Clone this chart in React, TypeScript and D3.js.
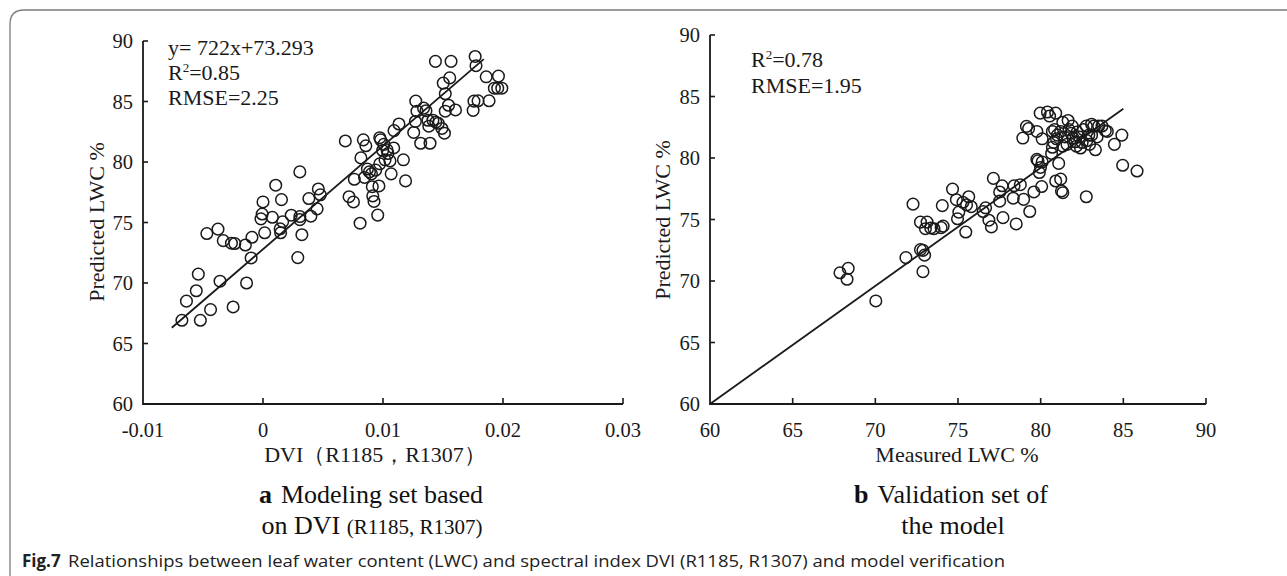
import React from "react";
import * as d3 from "d3";

// panel a: modelling set, DVI (R1185, R1307) vs predicted LWC
const dviValues = [
  -0.00676, -0.00522, -0.00437, -0.00638, -0.00556, -0.00539, -0.00358, -0.00249, -0.00137, -0.00468,
  -0.00375, -0.00331, -0.00263, -0.00235, -0.00147, -0.00092, -0.00099, 0.00014, -0.00007, 0.0,
  -0.00017, 0.00078, 0.00106, 0.00154, 0.00143, 0.00164, 0.00147, 0.00235, 0.00307, 0.00307,
  0.00307, 0.0029, 0.00324, 0.00382, 0.00399, 0.00461, 0.00478, 0.00451, 0.00686, 0.00717,
  0.00754, 0.00761, 0.00809, 0.00816, 0.00836, 0.00857, 0.00846, 0.0087, 0.00887, 0.00911,
  0.00915, 0.00925, 0.00956, 0.00966, 0.00973, 0.0098, 0.00973, 0.00997, 0.01017, 0.01041,
  0.01058, 0.01068, 0.01089, 0.01092, 0.01133, 0.0117, 0.01188, 0.01256, 0.0127, 0.01273,
  0.01283, 0.01314, 0.01338, 0.01358, 0.01375, 0.01382, 0.01392, 0.01416, 0.01437, 0.0144,
  0.01461, 0.01491, 0.01512, 0.01502, 0.01519, 0.01519, 0.01546, 0.01556, 0.01567, 0.01604,
  0.01768, 0.01775, 0.01751, 0.01758, 0.01792, 0.0186, 0.01884, 0.01962, 0.01928, 0.01956,
  0.0199, 0.01007, 0.01034, 0.00939, 0.00904,
];
const predictedA = [
  66.92, 66.92, 67.8, 68.5, 69.36, 70.73, 70.15, 68.02, 70.0, 74.09,
  74.45, 73.5, 73.29, 73.26, 73.14, 73.78, 72.07, 74.15, 75.7, 76.7,
  75.3, 75.43, 78.08, 76.89, 74.48, 75.06, 74.15, 75.6, 79.18, 75.49,
  75.24, 72.1, 73.99, 76.98, 75.52, 77.77, 77.29, 76.13, 81.74, 77.13,
  76.7, 78.57, 74.94, 80.34, 81.83, 81.34, 78.72, 79.42, 79.18, 77.96,
  77.2, 76.74, 75.61, 78.02, 82.01, 81.83, 79.85, 80.95, 80.18, 80.7,
  80.09, 79.02, 81.16, 82.59, 83.14, 80.18, 78.44, 82.44, 83.35, 85.03,
  84.2, 81.55, 84.45, 84.24, 83.45, 82.96, 81.55, 83.45, 88.32, 83.29,
  83.2, 82.77, 82.38, 86.52, 85.64, 84.2, 84.69, 86.95, 88.32, 84.3,
  88.72, 87.96, 84.27, 85.03, 85.06, 87.04, 85.06, 87.1, 86.1, 86.1,
  86.1, 81.46, 81.0, 79.33, 79.02,
];
const fitA_x = [-0.0076, 0.0184];
const fitA_y = [66.3, 88.5];

// panel b: validation set, measured vs predicted LWC
const measuredB = [
  67.86, 68.36, 68.29, 70.03, 71.85, 72.28, 72.73, 72.73, 72.88, 72.98,
  72.88, 73.03, 73.13, 73.35, 73.55, 73.98, 74.1, 74.05, 74.67, 74.9,
  74.97, 75.05, 75.3, 75.52, 75.65, 75.8, 75.47, 76.52, 76.67, 76.87,
  77.02, 77.14, 77.52, 77.52, 77.72, 77.67, 78.34, 78.39, 78.52, 78.77,
  78.92, 78.97, 79.14, 79.27, 79.34, 79.59, 79.77, 79.77, 79.84, 79.92,
  79.99, 80.06, 79.97, 80.09, 80.09, 80.41, 80.54, 80.66, 80.71, 80.79,
  80.84, 80.91, 80.96, 81.09, 80.91, 81.21, 81.26, 81.34, 81.21, 81.34,
  81.46, 81.66, 81.71, 81.84, 81.96, 81.91, 82.09, 82.21, 82.34, 82.51,
  82.59, 82.76, 82.79, 82.91, 82.96, 82.76, 83.08, 83.21, 83.31, 83.41,
  83.51, 83.71, 83.91, 84.03, 84.46, 84.91, 84.96, 85.83, 80.71, 81.01,
  81.59, 82.16, 82.41, 81.34, 83.08,
];
const predictedB = [
  70.67, 71.03, 70.14, 68.38, 71.9, 76.25, 74.79, 72.55, 72.49, 72.1,
  70.76, 74.25, 74.79, 74.31, 74.25, 74.34, 74.46, 76.13, 77.47, 76.61,
  75.06, 75.6, 76.4, 76.19, 76.85, 76.04, 73.98, 75.65, 75.95, 74.94,
  74.4, 78.34, 77.24, 76.49, 75.15, 77.74, 76.73, 77.74, 74.64, 77.83,
  81.62, 76.64, 82.57, 82.39, 75.65, 77.24, 82.16, 79.89, 79.77, 78.82,
  79.23, 77.68, 83.65, 81.56, 79.68, 83.74, 83.41, 80.37, 80.87, 81.26,
  82.31, 83.65, 81.56, 79.56, 78.13, 78.28, 77.32, 77.18, 82.16, 82.9,
  81.71, 83.05, 82.31, 82.01, 81.62, 82.6, 81.32, 82.1, 81.71, 81.26,
  82.31, 82.6, 81.41, 81.86, 81.11, 76.85, 82.75, 82.6, 80.67, 81.71,
  82.6, 82.6, 82.22, 82.16, 81.11, 81.86, 79.41, 78.94, 82.16, 81.86,
  81.11, 80.96, 80.81, 80.96, 81.86,
];
const fitB_x = [60, 85];
const fitB_y = [60, 84];

const ticksA_x = [-0.01, 0, 0.01, 0.02, 0.03];
const ticksA_xLabels = ["-0.01", "0", "0.01", "0.02", "0.03"];
const ticksY = [60, 65, 70, 75, 80, 85, 90];
const ticksB_x = [60, 65, 70, 75, 80, 85, 90];

const SERIF = "'Liberation Serif', 'Times New Roman', serif";
const SANS = "'Open Sans', 'Noto Sans', sans-serif";
const INK = "#1a1a1a";

type Scale = d3.ScaleLinear<number, number>;

function Axes({ x, y, xTicks, xLabels, yTicks }: { x: Scale; y: Scale; xTicks: number[]; xLabels: string[]; yTicks: number[] }) {
  const [x0, x1] = x.range();
  const [y0, y1] = y.range();
  return (
    <g fill={INK} fontFamily={SERIF} fontSize={20.5}>
      <path d={`M${x0},${y1}V${y0}H${x1}`} fill="none" stroke={INK} strokeWidth={1.8} />
      {yTicks.map((t) => (
        <g key={"y" + t}>
          {t !== yTicks[0] && <line x1={x0} x2={x0 + 5} y1={y(t)} y2={y(t)} stroke={INK} strokeWidth={1.6} />}
          <text x={x0 - 10} y={y(t) + 7} textAnchor="end">{t}</text>
        </g>
      ))}
      {xTicks.map((t, i) => (
        <g key={"x" + t}>
          {i > 0 && <line x1={x(t)} x2={x(t)} y1={y0} y2={y0 - 6} stroke={INK} strokeWidth={1.6} />}
          <text x={x(t)} y={y0 + 33} textAnchor="middle">{xLabels[i]}</text>
        </g>
      ))}
    </g>
  );
}

export default function App() {
  const xA = d3.scaleLinear().domain([-0.01, 0.03]).range([143, 623]);
  const yA = d3.scaleLinear().domain([60, 90]).range([404, 41]);
  const xB = d3.scaleLinear().domain([60, 90]).range([710, 1206]);
  const yB = d3.scaleLinear().domain([60, 90]).range([404, 35]);

  const line = d3.line<[number, number]>();
  const fitA = line(fitA_x.map((v, i) => [xA(v), yA(fitA_y[i])]));
  const fitB = line(fitB_x.map((v, i) => [xB(v), yB(fitB_y[i])]));

  return (
    <svg width={1287} height={576} style={{ position: "absolute", left: 0, top: 0, background: "#fff" }}>
      <rect x={0} y={0} width={1287} height={576} fill="#fff" />
      <path d="M10,600V24Q10,10 24,10H1300" fill="none" stroke="#7a7a7a" strokeWidth={1.3} />

      {/* panel a */}
      <Axes x={xA} y={yA} xTicks={ticksA_x} xLabels={ticksA_xLabels} yTicks={ticksY} />
      <g fill="none" stroke={INK} strokeWidth={1.5}>
        {dviValues.map((v, i) => (
          <circle key={i} cx={xA(v)} cy={yA(predictedA[i])} r={5.8} />
        ))}
      </g>
      <path d={fitA ?? ""} fill="none" stroke={INK} strokeWidth={1.8} />
      <g fontFamily={SERIF} fontSize={22} fill={INK}>
        <text x={168} y={55}>y= 722x+73.293</text>
        <text x={168} y={80}>R<tspan fontSize={13} dy={-8}>2</tspan><tspan dy={8}>=0.85</tspan></text>
        <text x={168} y={105}>RMSE=2.25</text>
        <text transform="translate(104,222) rotate(-90)" textAnchor="middle">Predicted LWC %</text>
        <text x={375} y={462} textAnchor="middle">DVI（R1185，R1307）</text>
      </g>
      <g fontFamily={SERIF} fill="#111" textAnchor="middle">
        <text x={371} y={503} fontSize={26}><tspan fontWeight="bold">a</tspan><tspan dx={9}>Modeling set based</tspan></text>
        <text x={372} y={534} fontSize={26}>on DVI <tspan fontSize={21}>(R1185, R1307)</tspan></text>
      </g>

      {/* panel b */}
      <Axes x={xB} y={yB} xTicks={ticksB_x} xLabels={ticksB_x.map(String)} yTicks={ticksY} />
      <g fill="none" stroke={INK} strokeWidth={1.5}>
        {measuredB.map((v, i) => (
          <circle key={i} cx={xB(v)} cy={yB(predictedB[i])} r={5.8} />
        ))}
      </g>
      <path d={fitB ?? ""} fill="none" stroke={INK} strokeWidth={1.8} />
      <g fontFamily={SERIF} fontSize={22} fill={INK}>
        <text x={751} y={67}>R<tspan fontSize={13} dy={-8}>2</tspan><tspan dy={8}>=0.78</tspan></text>
        <text x={751} y={93}>RMSE=1.95</text>
        <text transform="translate(670,220) rotate(-90)" textAnchor="middle">Predicted LWC %</text>
        <text x={957} y={462} textAnchor="middle">Measured LWC %</text>
      </g>
      <g fontFamily={SERIF} fill="#111" textAnchor="middle" fontSize={26}>
        <text x={951} y={503}><tspan fontWeight="bold">b</tspan><tspan dx={9}>Validation set of</tspan></text>
        <text x={953} y={534}>the model</text>
      </g>

      {/* figure caption */}
      <g fontFamily={SANS} fill="#222" fontSize={17}>
        <text x={22} y={567} fontWeight="bold">Fig.7</text>
        <text x={68} y={567} textLength={937} lengthAdjust="spacingAndGlyphs">
          Relationships between leaf water content (LWC) and spectral index DVI (R1185, R1307) and model verification
        </text>
      </g>
    </svg>
  );
}
